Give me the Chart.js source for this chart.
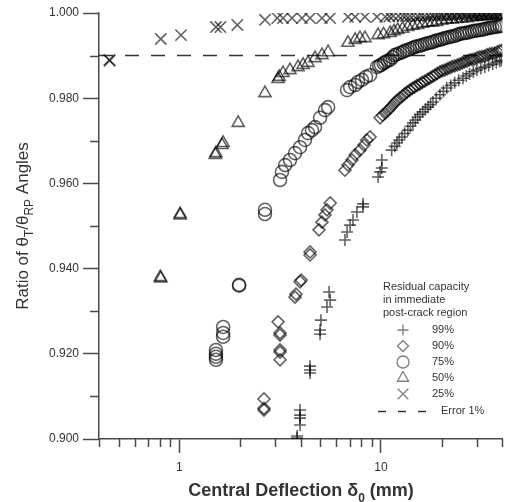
<!DOCTYPE html>
<html>
<head>
<meta charset="utf-8">
<script src="https://cdn.jsdelivr.net/npm/chart.js@4/dist/chart.umd.min.js"></script>
<style>
  html, body { margin: 0; padding: 0; background: #fff; }
</style>
</head>
<body>
<canvas id="myChart" width="512" height="502"></canvas>
<script>
const ctx = document.getElementById("myChart").getContext("2d");

// legend / axis text
const seriesLabels = ["99%", "90%", "75%", "50%", "25%"];
const legendTitle = ["Residual capacity", "in immediate", "post-crack region"];
const errorLabel = "Error 1%";

// tick marks
const xTickValues = [0.4, 0.5, 0.6, 0.7, 0.8, 0.9, 1, 2, 3, 4, 5, 6, 7, 8, 9, 10, 20, 30, 40];
const xTickLabels = [1, 10];
const yTickValues = [0.90, 0.91, 0.92, 0.93, 0.94, 0.95, 0.96, 0.97, 0.98, 0.99, 1.00];
const yTickLabels = ["0.900", "0.920", "0.940", "0.960", "0.980", "1.000"];

// 99%
const x99 = [3.84, 3.84, 3.97, 3.97, 3.97, 3.97, 4.45, 4.45, 4.45, 5.04, 4.99, 4.99, 5.40, 5.60, 5.53,
  6.63, 6.79, 7.03, 7.27, 7.60, 8.15, 8.15, 9.67, 9.90, 10.1, 10.1, 11.3, 11.7, 12.0, 12.3, 12.7, 13.1,
  13.6, 14.0, 14.4, 14.8, 15.2, 15.6, 16.1, 16.6, 17.1, 17.6, 18.1, 18.8, 19.6, 20.4, 21.2, 22.2, 23.2,
  24.3, 25.5, 26.5, 27.5, 28.7, 29.9, 31.3, 32.7, 34.2, 35.8, 37.3, 38.8, 39.6];
const y99 = [0.9007, 0.9002, 0.9068, 0.9056, 0.9049, 0.9033, 0.9171, 0.9162, 0.9155, 0.9279, 0.9256, 0.9246,
  0.9310, 0.9326, 0.9345, 0.9467, 0.9486, 0.9502, 0.9514, 0.9533, 0.9545, 0.9552, 0.9615, 0.9627, 0.9636,
  0.9655, 0.9678, 0.9687, 0.9695, 0.9702, 0.9709, 0.9717, 0.9725, 0.9734, 0.9742, 0.9749, 0.9756, 0.9762,
  0.9768, 0.9774, 0.9779, 0.9785, 0.9791, 0.9800, 0.9808, 0.9816, 0.9824, 0.9830, 0.9836, 0.9842, 0.9847,
  0.9852, 0.9857, 0.9862, 0.9866, 0.9870, 0.9873, 0.9877, 0.9880, 0.9884, 0.9887, 0.9889];

// 90%
const x90 = [2.63, 2.63, 2.63, 3.16, 3.16, 3.16, 3.16, 3.16, 3.09, 3.79, 3.75, 4.02, 3.97, 4.45, 4.45,
  4.93, 5.10, 5.28, 5.40, 5.60, 6.63, 6.86, 7.18, 7.45, 7.87, 8.24, 8.50, 8.83, 9.90, 10.2, 10.5, 10.8,
  11.1, 11.4, 11.7, 12.0, 12.4, 12.8, 13.1, 13.5, 13.9, 14.3, 14.7, 15.1, 15.6, 16.0, 16.5, 17.0, 17.5,
  18.0, 18.5, 19.0, 19.6, 20.1, 20.7, 21.3, 21.9, 22.5, 23.2, 23.9, 24.6, 25.3, 26.0, 26.7, 27.5, 28.3,
  29.1, 30.0, 30.9, 31.8, 32.7, 33.6, 34.6, 35.6, 36.7, 37.7, 38.8, 39.8];
const y90 = [0.9068, 0.9072, 0.9094, 0.9209, 0.9204, 0.9186, 0.9249, 0.9244, 0.9275, 0.9340, 0.9333, 0.9373,
  0.9369, 0.9439, 0.9432, 0.9491, 0.9509, 0.9526, 0.9538, 0.9554, 0.9631, 0.9643, 0.9655, 0.9667, 0.9678,
  0.9690, 0.9702, 0.9709, 0.9754, 0.9760, 0.9765, 0.9771, 0.9777, 0.9783, 0.9789, 0.9795, 0.9800, 0.9805,
  0.9810, 0.9815, 0.9819, 0.9823, 0.9826, 0.9830, 0.9833, 0.9837, 0.9840, 0.9844, 0.9847, 0.9851, 0.9854,
  0.9858, 0.9862, 0.9864, 0.9866, 0.9869, 0.9871, 0.9874, 0.9876, 0.9878, 0.9880, 0.9883, 0.9885, 0.9887,
  0.9890, 0.9891, 0.9892, 0.9895, 0.9897, 0.9898, 0.9899, 0.9902, 0.9904, 0.9905, 0.9906, 0.9909, 0.9911,
  0.9912];

// 75%
const x75 = [1.52, 1.52, 1.52, 1.52, 1.65, 1.65, 1.65, 1.98, 1.98, 2.66, 2.66, 3.16, 3.23, 3.35, 3.54,
  3.75, 3.97, 4.20, 4.35, 4.55, 4.71, 4.99, 5.28, 5.47, 6.79, 7.03, 7.45, 7.69, 8.05, 8.43, 8.83, 9.55,
  9.80, 10.0, 10.3, 10.5, 10.8, 11.1, 11.4, 11.7, 12.0, 12.4, 12.8, 13.1, 13.5, 13.9, 14.3, 14.7, 15.1,
  15.6, 16.0, 16.5, 17.0, 17.5, 18.0, 18.5, 19.0, 19.6, 20.1, 20.7, 21.3, 21.9, 22.5, 23.2, 23.9, 24.6,
  25.3, 26.0, 26.7, 27.5, 28.3, 29.1, 30.0, 30.9, 31.8, 32.7, 33.6, 34.6, 35.6, 36.7, 37.7, 38.8, 39.8];
const y75 = [0.9209, 0.9200, 0.9193, 0.9186, 0.9263, 0.9249, 0.9240, 0.9362, 0.9360, 0.9538, 0.9528, 0.9608,
  0.9627, 0.9643, 0.9655, 0.9671, 0.9685, 0.9702, 0.9718, 0.9725, 0.9732, 0.9754, 0.9772, 0.9779, 0.9819,
  0.9826, 0.9831, 0.9838, 0.9843, 0.9850, 0.9854, 0.9873, 0.9876, 0.9878, 0.9882, 0.9885, 0.9888, 0.9890,
  0.9896, 0.9901, 0.9903, 0.9906, 0.9908, 0.9911, 0.9913, 0.9915, 0.9918, 0.9920, 0.9922, 0.9923, 0.9925,
  0.9927, 0.9929, 0.9930, 0.9932, 0.9934, 0.9936, 0.9937, 0.9939, 0.9941, 0.9942, 0.9944, 0.9945, 0.9946,
  0.9949, 0.9951, 0.9952, 0.9953, 0.9954, 0.9955, 0.9957, 0.9958, 0.9959, 0.9960, 0.9961, 0.9962, 0.9964,
  0.9965, 0.9966, 0.9967, 0.9968, 0.9969, 0.9970];

// 50%
const x50 = [0.805, 0.81, 1.01, 1.01, 1.52, 1.51, 1.65, 1.63, 1.96, 2.66, 3.13, 3.09, 3.27, 3.54, 3.88,
  4.11, 4.35, 4.71, 5.10, 5.47, 6.86, 7.45, 7.87, 8.33, 9.67, 10.3, 11.1, 11.6, 12.1, 12.8, 13.6, 14.4,
  15.2, 16.1, 17.1, 18.0, 18.9, 20.0, 21.2, 22.5, 23.8, 25.2, 26.7, 28.3, 29.9, 31.6, 33.5, 35.4, 37.5,
  39.5];
const y50 = [0.9380, 0.9377, 0.9528, 0.9525, 0.9671, 0.9667, 0.9695, 0.9690, 0.9742, 0.9812, 0.9850, 0.9845,
  0.9859, 0.9866, 0.9873, 0.9878, 0.9883, 0.9894, 0.9901, 0.9908, 0.9930, 0.9937, 0.9941, 0.9941, 0.9948,
  0.9950, 0.9953, 0.9957, 0.9960, 0.9963, 0.9967, 0.9970, 0.9972, 0.9975, 0.9977, 0.9978, 0.9979, 0.9982,
  0.9984, 0.9985, 0.9986, 0.9987, 0.9988, 0.9990, 0.9991, 0.9992, 0.9993, 0.9994, 0.9995, 0.9996];

// 25%
const x25 = [0.45, 0.452, 0.81, 1.02, 1.52, 1.60, 1.94, 2.66, 3.06, 3.27, 3.62, 4.06, 4.45, 5.10, 5.60,
  6.86, 7.45, 8.33, 9.55, 10.5, 11.0, 11.5, 12.2, 12.8, 13.3, 13.9, 14.5, 15.2, 15.8, 16.5, 17.2, 17.9,
  18.5, 19.2, 19.8, 20.5, 21.2, 21.9, 22.5, 23.2, 23.9, 24.6, 25.3, 26.0, 26.7, 27.5, 28.2, 28.9, 29.5,
  30.2, 30.9, 31.6, 32.3, 33.1, 33.8, 34.6, 35.4, 36.3, 37.1, 38.0, 38.8, 39.6];
const y25 = [0.9890, 0.9888, 0.9939, 0.9948, 0.9967, 0.9967, 0.9972, 0.9984, 0.9988, 0.9988, 0.9988, 0.9988,
  0.9988, 0.9988, 0.9988, 0.9991, 0.9991, 0.9991, 0.9991, 0.9991, 0.9992, 0.9993, 0.9993, 0.9993, 0.9993,
  0.9993, 0.9994, 0.9993, 0.9994, 0.9993, 0.9994, 0.9995, 0.9995, 0.9995, 0.9995, 0.9995, 0.9996, 0.9995,
  0.9996, 0.9995, 0.9996, 0.9995, 0.9997, 0.9998, 0.9997, 0.9998, 0.9997, 0.9998, 0.9997, 0.9998, 0.9997,
  0.9998, 0.9997, 0.9998, 0.9997, 0.9998, 0.9997, 0.9998, 0.9997, 0.9998, 0.9997, 0.9998];

// Error 1% line
const xErr = [0.4, 40];
const yErr = [0.99, 0.99];

const FONT = "'Liberation Sans', Arial, Helvetica, sans-serif";
const INK = "#333";
const AXIS = "#4a4a4a";
const markColor = "rgba(0,0,0,0.62)";
const legendMarkColor = "rgba(40,40,40,0.6)";
const markStyles = ["cross", "rectRot", "circle", "triangle", "crossRot"];
const markSizes = [6, 6, 6.5, 7, 8];

const toPoints = (xs, ys) => xs.map((x, i) => ({ x: x, y: ys[i] }));

const makeSet = (i, xs, ys) => ({
  label: seriesLabels[i],
  data: toPoints(xs, ys),
  showLine: false,
  pointStyle: markStyles[i],
  pointRadius: markSizes[i],
  pointHoverRadius: markSizes[i],
  pointBorderWidth: 1.6,
  pointBorderColor: markColor,
  pointBackgroundColor: "rgba(0,0,0,0)",
});

// text with subscripts, optionally rotated
const drawRich = (c, parts, cx, cy, size, weight, rot) => {
  const big = weight + " " + size + "px " + FONT;
  const small = weight + " " + Math.round(size * 0.68) + "px " + FONT;
  let total = 0;
  parts.forEach(p => { c.font = p.sub ? small : big; total += c.measureText(p.t).width; });
  c.save();
  c.translate(cx, cy);
  c.rotate(rot);
  c.fillStyle = INK;
  c.textBaseline = "alphabetic";
  c.textAlign = "left";
  let x = -total / 2;
  const base = size * 0.36;
  parts.forEach(p => {
    c.font = p.sub ? small : big;
    c.fillText(p.t, x, base + (p.sub ? size * 0.3 : 0));
    x += c.measureText(p.t).width;
  });
  c.restore();
};

const drawMark = (c, style, r, x, y) => {
  c.save();
  c.strokeStyle = legendMarkColor;
  c.fillStyle = "rgba(0,0,0,0)";
  c.lineWidth = 1.3;
  if (Chart.helpers && Chart.helpers.drawPoint) {
    Chart.helpers.drawPoint(c, { pointStyle: style, radius: r, rotation: 0, borderWidth: 1.3 }, x, y);
  }
  c.restore();
};

const decorPlugin = {
  id: "decor",
  afterDraw(chart) {
    const c = chart.ctx;
    const xs = chart.scales.x, ys = chart.scales.y;
    const area = chart.chartArea;
    c.save();
    // minor ticks
    c.strokeStyle = AXIS;
    c.lineWidth = 1.5;
    xTickValues.forEach(v => {
      if (xTickLabels.includes(v)) return;
      const px = Math.round(xs.getPixelForValue(v)) + 0.5;
      c.beginPath(); c.moveTo(px, area.bottom); c.lineTo(px, area.bottom + 8); c.stroke();
    });
    yTickValues.forEach(v => {
      if (yTickLabels.includes(v.toFixed(3))) return;
      const py = Math.round(ys.getPixelForValue(v)) + 0.5;
      c.beginPath(); c.moveTo(area.left, py); c.lineTo(area.left - 9, py); c.stroke();
    });
    c.restore();

    // axis titles
    drawRich(c, [{ t: "Ratio of \u03B8" }, { t: "T", sub: true }, { t: "/\u03B8" }, { t: "RP", sub: true }, { t: " Angles" }],
      22, 226, 17, "normal", -Math.PI / 2);
    drawRich(c, [{ t: "Central Deflection \u03B4" }, { t: "0", sub: true }, { t: " (mm)" }],
      301, 490, 18, "bold", 0);

    // legend
    c.save();
    c.fillStyle = INK;
    c.font = "11px " + FONT;
    c.textBaseline = "middle";
    c.textAlign = "left";
    legendTitle.forEach((t, i) => c.fillText(t, 383, 287 + i * 13));
    const rowY = [330, 346, 362, 378, 394];
    seriesLabels.forEach((t, i) => {
      drawMark(c, markStyles[i], markSizes[i] - 0.5, 403, rowY[i]);
      c.fillStyle = INK;
      c.fillText(t, 432, rowY[i]);
    });
    c.strokeStyle = "#333";
    c.lineWidth = 1.5;
    c.setLineDash([8, 12]);
    c.beginPath(); c.moveTo(378, 411.5); c.lineTo(436, 411.5); c.stroke();
    c.setLineDash([]);
    c.fillText(errorLabel, 441, 411);
    c.restore();
  },
};

new Chart(ctx, {
  type: "scatter",
  data: {
    datasets: [
      makeSet(0, x99, y99),
      makeSet(1, x90, y90),
      makeSet(2, x75, y75),
      makeSet(3, x50, y50),
      makeSet(4, x25, y25),
      {
        type: "line",
        label: errorLabel,
        data: toPoints(xErr, yErr),
        showLine: true,
        borderColor: "#333",
        borderWidth: 1.5,
        borderDash: [14, 12],
        pointRadius: 0,
        fill: false,
      },
    ],
  },
  options: {
    responsive: false,
    animation: false,
    events: [],
    layout: { padding: { top: 13, right: 9, bottom: 0, left: 0 } },
    plugins: { legend: { display: false }, tooltip: { enabled: false } },
    scales: {
      x: {
        type: "logarithmic",
        min: 0.4,
        max: 40,
        afterBuildTicks: (axis) => { axis.ticks = xTickValues.map(v => ({ value: v })); },
        afterFit: (axis) => { axis.height = 63; },
        ticks: {
          autoSkip: false, maxRotation: 0, minRotation: 0, padding: 7, color: INK,
          font: { family: FONT, size: 12 },
          callback: (v) => (xTickLabels.includes(v) ? String(v) : ""),
        },
        grid: {
          drawOnChartArea: false, drawTicks: true, tickLength: 14, tickWidth: 1.5,
          tickColor: (c) => (c.tick && xTickLabels.includes(c.tick.value) ? AXIS : "rgba(0,0,0,0)"),
        },
        border: { display: true, color: AXIS, width: 1.5 },
      },
      y: {
        min: 0.9,
        max: 1.0,
        afterBuildTicks: (axis) => { axis.ticks = yTickValues.map(v => ({ value: v })); },
        afterFit: (axis) => { axis.width = 99; },
        ticks: {
          autoSkip: false, padding: 4, color: INK,
          font: { family: FONT, size: 12 },
          callback: (v) => (yTickLabels.includes(v.toFixed(3)) ? v.toFixed(3) : ""),
        },
        grid: {
          drawOnChartArea: false, drawTicks: true, tickLength: 16, tickWidth: 1.5,
          tickColor: (c) => (c.tick && yTickLabels.includes(c.tick.value.toFixed(3)) ? AXIS : "rgba(0,0,0,0)"),
        },
        border: { display: true, color: AXIS, width: 1.5 },
      },
    },
  },
  plugins: [decorPlugin],
});
</script>
</body>
</html>
